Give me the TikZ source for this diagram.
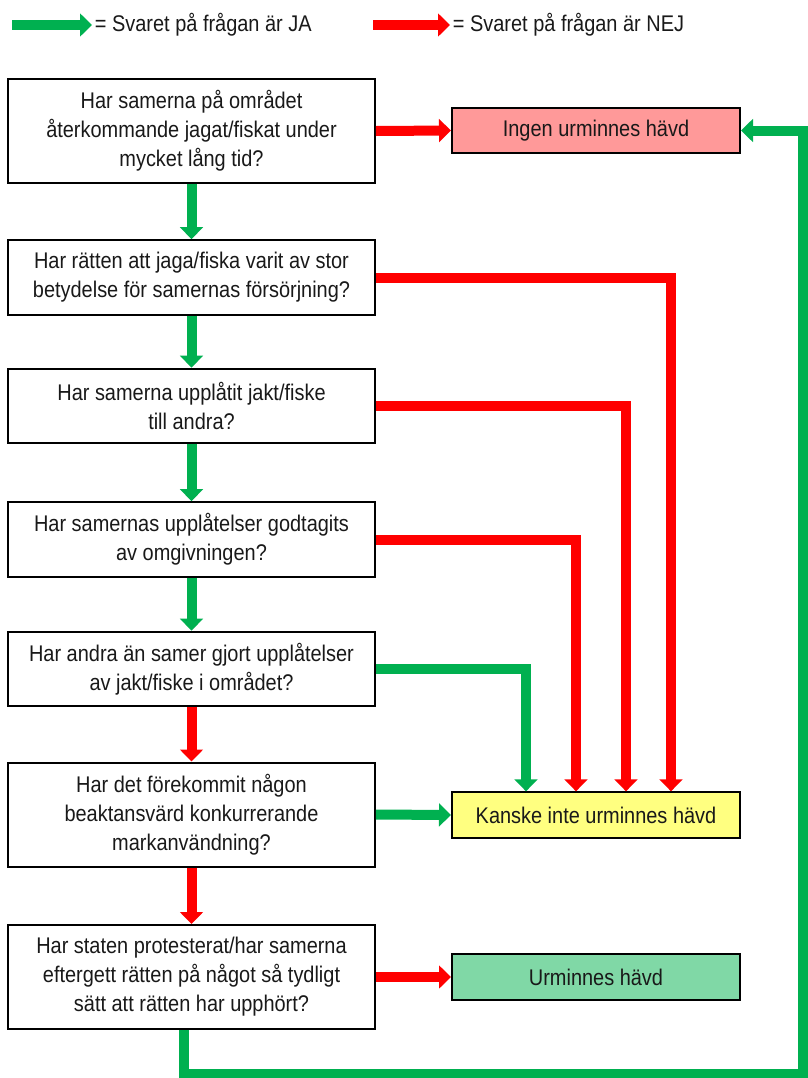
\documentclass[tikz,border=0pt]{standalone}
\usepackage{fontspec}
\setmainfont{Liberation Sans}[FakeStretch=0.88]
\usetikzlibrary{arrows.meta}

\definecolor{ja}{RGB}{0,176,80}
\definecolor{nej}{RGB}{255,0,0}
\definecolor{ingenfill}{RGB}{255,153,153}
\definecolor{kanskefill}{RGB}{255,255,128}
\definecolor{hevdfill}{RGB}{128,216,166}

\tikzset{
  txt/.style={font=\fontsize{17}{21.75}\selectfont, text=black!90},
  fraga/.style={txt, draw, line width=1.5pt, minimum width=275pt, align=center, inner sep=0pt},
  svar/.style={txt, draw, line width=1.5pt, minimum width=216pt, minimum height=34pt, inner sep=0pt},
  pil/.style={line width=7.5pt, -{Triangle[width=17pt,length=9pt]}},
  japil/.style={pil, draw=ja},
  nejpil/.style={pil, draw=nej},
}

\begin{document}
\begin{tikzpicture}[x=0.75pt,y=-0.75pt]
\useasboundingbox (0,0) rectangle (807,1078);

% legend
\coordinate (jastart) at (12,25);
\coordinate (nejstart) at (373,25);
\node[txt, anchor=west, inner sep=2pt] (jatxt) at (92,25) {= Svaret på frågan är JA};
\node[txt, anchor=west, inner sep=2pt] (nejtxt) at (450,25) {= Svaret på frågan är NEJ};
\draw[japil] (jastart) -- (jatxt.west);
\draw[nejpil] (nejstart) -- (nejtxt.west);

% questions
\node[fraga, minimum height=78pt] (q1) at (191.5,131) {Har samerna på området\\återkommande jagat/fiskat under\\mycket lång tid?};
\node[fraga, minimum height=56pt] (q2) at (191.5,277.5) {Har rätten att jaga/fiska varit av stor\\betydelse för samernas försörjning?};
\node[fraga, minimum height=56pt] (q3) at (191.5,406) {Har samerna upplåtit jakt/fiske\\till andra?};
\node[fraga, minimum height=56pt] (q4) at (191.5,539.5) {Har samernas upplåtelser godtagits\\av omgivningen?};
\node[fraga, minimum height=56pt] (q5) at (191.5,669) {Har andra än samer gjort upplåtelser\\av jakt/fiske i området?};
\node[fraga, minimum height=78pt] (q6) at (191.5,814.5) {Har det förekommit någon\\beaktansvärd konkurrerande\\markanvändning?};
\node[fraga, minimum height=78pt] (q7) at (191.5,977) {Har staten protesterat/har samerna\\eftergett rätten på något så tydligt\\sätt att rätten har upphört?};

% answers
\node[svar, fill=ingenfill] (ingen) at (596,130.5) {Ingen urminnes hävd};
\node[svar, fill=kanskefill] (kanske) at (596,815) {Kanske inte urminnes hävd};
\node[svar, fill=hevdfill] (hevd) at (596,977) {Urminnes hävd};

% down the chain
\foreach \a/\b/\c in {q1/q2/japil, q2/q3/japil, q3/q4/japil, q4/q5/japil, q5/q6/nejpil, q6/q7/nejpil}{
    \draw[\c] (\a.south) -- (\b.north);
}

% side ways
\draw[nejpil] (q1.east) -- (ingen.west);
\draw[japil] (q6.east) -- (kanske.west);
\draw[nejpil] (q7.east) -- (hevd.west);

\foreach \a/\dx/\c in {q2/56.25pt/nejpil, q3/22.5pt/nejpil, q4/-15pt/nejpil, q5/-52.5pt/japil}{
    \draw[\c] (\a.east) -| ([xshift=\dx]kanske.north);
}

% back up to the top
\coordinate (hoern) at (803,1074);
\draw[japil] ([xshift=-6pt]q7.south) |- (hoern) |- (ingen.east);

\end{tikzpicture}
\end{document}
